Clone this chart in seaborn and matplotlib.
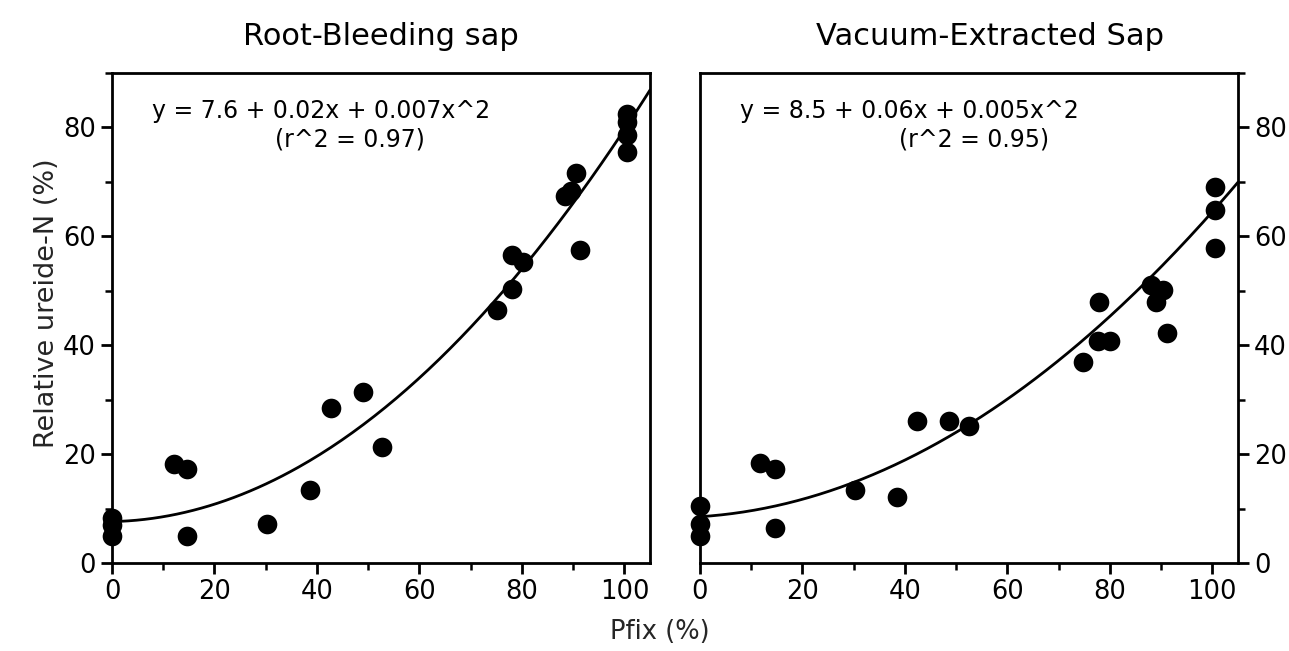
import numpy as np
import pandas as pd
import matplotlib
matplotlib.use("Agg")
import matplotlib.pyplot as plt
import seaborn as sns
from matplotlib.ticker import MultipleLocator

# ---- data ----
rb_x = [0, 0, 0, 12, 14.7, 14.7, 30.3, 38.7, 42.7, 49.0, 52.6,
        75.1, 78.1, 78.0, 80.3, 88.5, 89.5, 90.5, 91.4,
        100.5, 100.5, 100.5, 100.5]
rb_y = [8.2, 7.0, 4.9, 18.1, 17.2, 5.0, 7.1, 13.4, 28.4, 31.4, 21.3,
        46.5, 56.5, 50.4, 55.3, 67.4, 68.3, 71.6, 57.5,
        82.4, 81.0, 78.6, 75.5]

ve_x = [0, 0, 0, 11.7, 14.7, 14.7, 30.3, 38.5, 42.4, 48.6, 52.5,
        74.8, 77.8, 77.7, 80.1, 88.1, 89.0, 90.4, 91.1,
        100.5, 100.5, 100.5]
ve_y = [10.4, 7.2, 4.9, 18.3, 17.3, 6.5, 13.4, 12.1, 26.0, 26.0, 25.2,
        36.9, 47.9, 40.8, 40.8, 51.0, 47.9, 50.1, 42.2,
        69.0, 64.8, 57.8]

# fitted quadratic coefficients printed on the chart (a, b, c)
rb_coef = [7.6, 0.02, 0.007]
ve_coef = [8.5, 0.06, 0.005]
rb_label = ["y = 7.6 + 0.02x + 0.007x^2", "(r^2 = 0.97)"]
ve_label = ["y = 8.5 + 0.06x + 0.005x^2", "(r^2 = 0.95)"]
titles = ["Root-Bleeding sap", "Vacuum-Extracted Sap"]
x_ticks = [0, 20, 40, 60, 80, 100]
y_ticks = [0, 20, 40, 60, 80]

sns.set_style("ticks")
plt.rcParams['font.family'] = ['DejaVu Sans']

fig = plt.figure(figsize=(12.89, 6.51), dpi=100)
axL = fig.add_axes([0.0869, 0.1352, 0.4174, 0.7527])
axR = fig.add_axes([0.5430, 0.1352, 0.4174, 0.7527])


def panel(ax, xs, ys, coef, lab, r2_x, title, title_x, side):
    df = pd.DataFrame({"x": xs, "y": ys})
    xx = np.linspace(0, 105, 200)
    yy = coef[0] + coef[1] * xx + coef[2] * xx ** 2
    fit = pd.DataFrame({"x": xx, "y": yy})
    sns.lineplot(data=fit, x="x", y="y", ax=ax, color="black", lw=2.0)
    sns.scatterplot(data=df, x="x", y="y", ax=ax, color="black", s=200,
                    edgecolor="black", linewidth=0, clip_on=False, zorder=5)
    ax.set_xlim(0, 105)
    ax.set_ylim(0, 90)
    ax.set_xticks(x_ticks)
    ax.set_yticks(y_ticks)
    ax.xaxis.set_minor_locator(MultipleLocator(10))
    ax.yaxis.set_minor_locator(MultipleLocator(10))
    ax.set_xlabel("")
    ax.set_ylabel("")
    for sp in ax.spines.values():
        sp.set_visible(True)
        sp.set_linewidth(2.0)
        sp.set_color("black")
    ax.tick_params(which="major", direction="out", length=8, width=2.0,
                   labelsize=18.5, color="black", labelcolor="black")
    ax.tick_params(which="minor", direction="out", length=5, width=1.8,
                   color="black")
    if side == "right":
        ax.yaxis.tick_right()
        ax.yaxis.set_label_position("right")
    ax.text(7.9, 83, lab[0], fontsize=17, ha="left", va="center",
            color="black")
    ax.text(r2_x, 77.7, lab[1], fontsize=17, ha="center", va="center",
            color="black")
    ax.text(title_x, 1.057, title, transform=ax.transAxes, fontsize=22,
            ha="center", va="baseline", color="black")


panel(axL, rb_x, rb_y, rb_coef, rb_label, 46.4, titles[0], 0.50, "left")
panel(axR, ve_x, ve_y, ve_coef, ve_label, 53.5, titles[1], 0.54, "right")

axL.set_ylabel("Relative ureide-N (%)", fontsize=19.5)
axL.yaxis.set_label_coords(-0.097, 0.53)
fig.text(0.512, 0.029, "Pfix (%)", fontsize=18.5, ha="center", va="center")

fig.savefig("out.png", dpi=100, facecolor="white")
